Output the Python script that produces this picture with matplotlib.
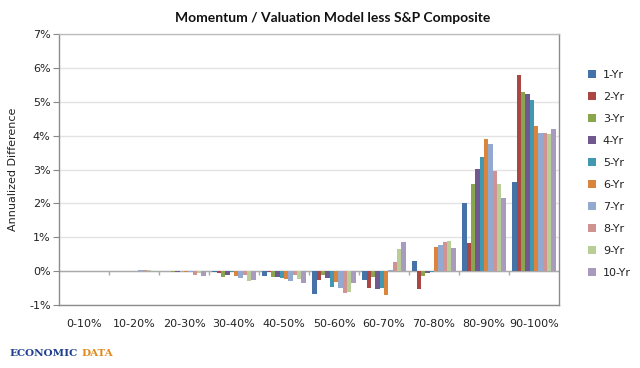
import numpy as np
import matplotlib
matplotlib.use("Agg")
import matplotlib.pyplot as plt
from matplotlib.ticker import FuncFormatter, MultipleLocator

categories = ["0-10%", "10-20%", "20-30%", "30-40%", "40-50%",
              "50-60%", "60-70%", "70-80%", "80-90%", "90-100%"]
series = ["1-Yr", "2-Yr", "3-Yr", "4-Yr", "5-Yr",
          "6-Yr", "7-Yr", "8-Yr", "9-Yr", "10-Yr"]

# values in percent, one list per series (across categories)
yr1 = [0.00, 0.00, -0.01, -0.02, -0.15, -0.68, -0.26, 0.29, 2.02, 2.64]
yr2 = [0.00, 0.00, -0.01, -0.07, -0.04, -0.25, -0.50, -0.52, 0.82, 5.79]
yr3 = [0.00, 0.00, -0.02, -0.17, -0.17, -0.10, -0.17, -0.13, 2.57, 5.28]
yr4 = [0.00, 0.00, -0.02, -0.12, -0.17, -0.20, -0.54, -0.06, 3.02, 5.23]
yr5 = [0.00, 0.00, -0.01, -0.03, -0.20, -0.46, -0.49, -0.03, 3.38, 5.04]
yr6 = [0.00, 0.01, -0.02, -0.14, -0.24, -0.31, -0.71, 0.72, 3.89, 4.29]
yr7 = [0.00, 0.02, -0.04, -0.20, -0.29, -0.51, 0.02, 0.77, 3.74, 4.07]
yr8 = [0.00, 0.02, -0.10, -0.10, -0.12, -0.64, 0.26, 0.87, 2.95, 4.07]
yr9 = [0.00, 0.03, -0.07, -0.28, -0.22, -0.61, 0.66, 0.89, 2.57, 4.05]
yr10 = [0.00, 0.01, -0.13, -0.25, -0.34, -0.34, 0.86, 0.67, 2.15, 4.19]
values = [yr1, yr2, yr3, yr4, yr5, yr6, yr7, yr8, yr9, yr10]

colors = ['#4572A7', '#AA4643', '#89A54E', '#71588F', '#4198AF',
          '#DB843D', '#93A9CF', '#D19392', '#B9CD96', '#A99BBD']

fig = plt.figure(figsize=(6.4, 3.68), dpi=100)
ax = fig.add_axes([59/640, 1-305/368, 500/640, 271/368])

x = np.arange(len(categories))
w = 0.0866
n = len(series)
for i, (name, vals, c) in enumerate(zip(series, values, colors)):
    offs = (i - (n - 1) / 2) * w
    ax.bar(x + offs, vals, width=w, color=c, label=name, zorder=3,
           edgecolor='none')

ax.set_xlim(-0.5, len(categories) - 0.5)
ax.set_ylim(-1, 7)
ax.yaxis.set_major_locator(MultipleLocator(1))
ax.yaxis.set_major_formatter(FuncFormatter(lambda v, p: f"{v:.0f}%"))
ax.grid(axis='y', color='#e3e3e3', linewidth=1, zorder=0)
ax.set_axisbelow(True)

ax.set_xticks(x)
ax.set_xticklabels(categories)
ax.tick_params(axis='x', length=0, pad=10, labelsize=8, colors='#222222')
ax.tick_params(axis='y', length=4, width=0.8, color='#888888', labelsize=8,
               colors='#222222', pad=2)
for t in ax.get_yticklabels():
    t.set_color('#222222')

for s in ax.spines.values():
    s.set_color('#8c8c8c')
    s.set_linewidth(1.0)
ax.spines['top'].set_color('#bdbdbd')

# zero axis line with category boundary ticks
ax.axhline(0, color='#aaaaaa', linewidth=1.0, zorder=2)
bounds = np.arange(len(categories) - 1) + 0.5
ax.vlines(bounds, -0.12, 0, color='#aaaaaa', linewidth=1.0, zorder=2)

ax.set_ylabel("Annualized Difference", fontsize=8, color='#222222', labelpad=8)

fig.text(333/640, 1-18/368, "Momentum / Valuation Model less S&P Composite",
         ha='center', va='center', fontsize=10, fontweight='bold',
         family='Lato', color='#111111')

leg = ax.legend(loc='upper left', bbox_to_anchor=(1.05, 0.885), frameon=False,
                fontsize=8, handlelength=0.7, handleheight=0.7,
                handletextpad=0.6, labelspacing=1.08, borderaxespad=0)
for t in leg.get_texts():
    t.set_color('#222222')

# logo
fig.text(9/640, 1-354/368, "ECONOMIC", ha='left', va='center', fontsize=7.5,
         fontweight='bold', family='DejaVu Serif', color='#1f3f8f')
fig.text(81/640, 1-354/368, "DATA", ha='left', va='center', fontsize=7.5,
         fontweight='bold', family='DejaVu Serif', color='#e08a1e')

fig.savefig("out.png", dpi=100)
